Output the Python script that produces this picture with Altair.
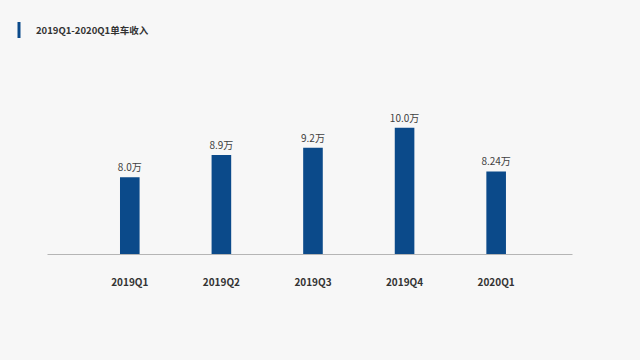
import altair as alt
import pandas as pd

quarters = ["2019Q1", "2019Q2", "2019Q3", "2019Q4", "2020Q1"]
revenue = [8.0, 8.9, 9.2, 10.0, 8.24]
labels = ["8.0万", "8.9万", "9.2万", "10.0万", "8.24万"]
title_text = "2019Q1-2020Q1单车收入"

df = pd.DataFrame({"q": quarters, "v": revenue, "lab": labels})
FONT = "Noto Sans CJK SC"
BLUE = "#0b4a8a"
BG = "#f7f7f7"

x = alt.X("q:N", sort=quarters, title=None,
          scale=alt.Scale(paddingInner=0.786, paddingOuter=0.759, align=0.525),
          axis=alt.Axis(labelAngle=0, ticks=False, domainColor="#b5b5b5", domainWidth=1,
                        labelPadding=23, labelFontSize=10, labelFontWeight="bold",
                        labelColor="#333333", labelFont=FONT))
y = alt.Y("v:Q", scale=alt.Scale(domain=[4.9, 10.6], zero=False, nice=False), axis=None)

bars = alt.Chart(df).mark_bar(color=BLUE, clip=True).encode(x=x, y=y)
txt = alt.Chart(df).mark_text(baseline="bottom", dy=-4, fontSize=10, font=FONT,
                              color="#404040").encode(x=alt.X("q:N", sort=quarters), y="v:Q", text="lab:N")

tdf = pd.DataFrame({"t": [title_text]})
title = alt.Chart(tdf).mark_text(align="left", baseline="middle", fontSize=9.5, fontWeight="bold",
                                 font=FONT, color="#333333").encode(
    x=alt.value(-11), y=alt.value(-82), text="t:N")
accent = alt.Chart(tdf).mark_rule(color=BLUE, strokeWidth=3).encode(
    x=alt.value(-28), y=alt.value(-91), y2=alt.value(-75))

chart = alt.layer(bars, txt, title, accent).properties(
    width=525, height=141,
    autosize=alt.AutoSizeParams(type="none"),
    padding={"left": 39, "top": 105, "right": 60, "bottom": 98},
    background=BG,
).configure_view(stroke=None)

chart.save("out.html", embed_options={"renderer": "svg", "actions": False})

with open("out.html", encoding="utf-8") as f:
    html = f.read()
html = html.replace("<head>", "<head><style>html,body{background:%s;}</style>" % BG, 1)
with open("out.html", "w", encoding="utf-8") as f:
    f.write(html)
